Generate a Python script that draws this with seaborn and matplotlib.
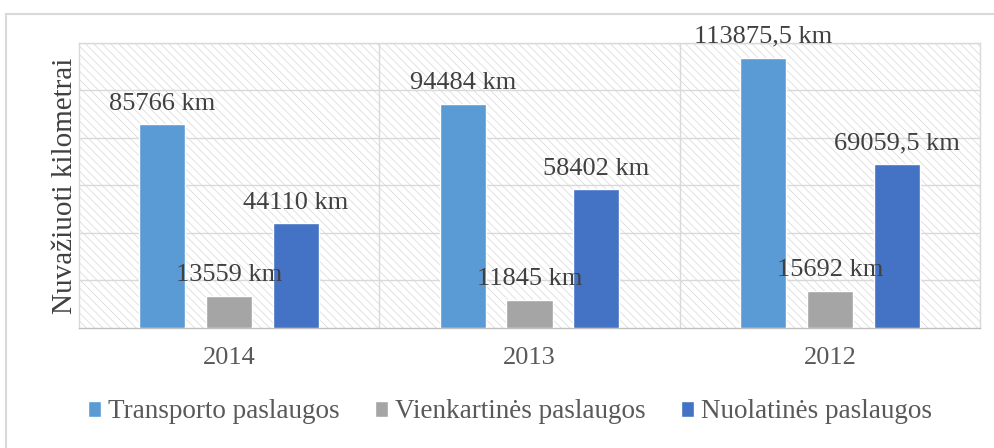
import numpy as np
import pandas as pd
from matplotlib import pyplot as plt
from matplotlib.patches import Rectangle
import seaborn as sns

years = ['2014', '2013', '2012']
series_names = ['Transporto paslaugos', 'Vienkartinės paslaugos', 'Nuolatinės paslaugos']
transport = [85766, 94484, 113875.5]
vienkartines = [13559, 11845, 15692]
nuolatines = [44110, 58402, 69059.5]
colors = ['#5B9BD5', '#A5A5A5', '#4472C4']


def fmt_km(v):
    # Lithuanian style: comma as decimal separator
    s = str(int(v)) if float(v).is_integer() else f"{v:.1f}".replace('.', ',')
    return f"{s} km"


df = pd.DataFrame({
    'year': years * 3,
    'series': np.repeat(series_names, len(years)),
    'km': transport + vienkartines + nuolatines,
})

sns.set_style("white")
plt.rcParams['font.family'] = ['Liberation Serif', 'DejaVu Serif']
plt.rcParams['hatch.linewidth'] = 0.5
plt.rcParams['hatch.color'] = '#d6d6d6'

fig = plt.figure(figsize=(9.94, 4.48), dpi=100)
ax = fig.add_axes([79 / 994, 1 - 328 / 448, (980 - 79) / 994, (328 - 43) / 448])

# hatched plot background
ax.patch.set_facecolor('white')
ax.add_patch(Rectangle((0, 0), 1, 1, transform=ax.transAxes, facecolor='white',
                       edgecolor='#d6d6d6', hatch='\\\\\\\\', linewidth=0, zorder=0))

sns.barplot(data=df, x='year', y='km', hue='series', order=years,
            hue_order=series_names, palette=colors, width=0.667, gap=0.31,
            saturation=1, ax=ax, zorder=3, legend=True)

ax.set_ylim(0, 120000)
ax.set_xlim(-0.5, 2.5)
ax.set_yticks(np.arange(0, 120001, 20000))
ax.set_yticklabels([])
ax.tick_params(axis='both', length=0)
ax.tick_params(axis='x', labelsize=19, labelcolor='#595959', pad=14)

for y in np.arange(20000, 120001, 20000):
    ax.axhline(y, color='#d9d9d9', linewidth=1, zorder=1)
for x in [0.5, 1.5]:
    ax.axvline(x, color='#d9d9d9', linewidth=1, zorder=1)
for side, sp in ax.spines.items():
    sp.set_visible(True)
    sp.set_color('#d9d9d9')
    sp.set_linewidth(1)
ax.spines['bottom'].set_color('#bfbfbf')

all_vals = [transport, vienkartines, nuolatines]
for cont, vals in zip(ax.containers, all_vals):
    ax.bar_label(cont, labels=[fmt_km(v) for v in vals], padding=7,
                 fontsize=19, color='#404040')

ax.set_xlabel('')
ax.set_ylabel('Nuvažiuoti kilometrai', fontsize=21, color='#404040', labelpad=-3)

handles, labels = ax.get_legend_handles_labels()
ax.legend_.remove()
fig.legend(handles, labels, loc='center', bbox_to_anchor=(0.513, 1 - 412 / 448),
           ncol=3, frameon=False, fontsize=19.5, labelcolor='#595959',
           handlelength=0.5, handleheight=0.5, handletextpad=0.25,
           columnspacing=1.3)

# outer chart border
fig.patches.append(Rectangle((6 / 994, -0.05), 1.1, 1 - 14 / 448 + 0.05,
                             transform=fig.transFigure, fill=False,
                             edgecolor='#d9d9d9', linewidth=1.5))

fig.savefig('out.png', dpi=100)
